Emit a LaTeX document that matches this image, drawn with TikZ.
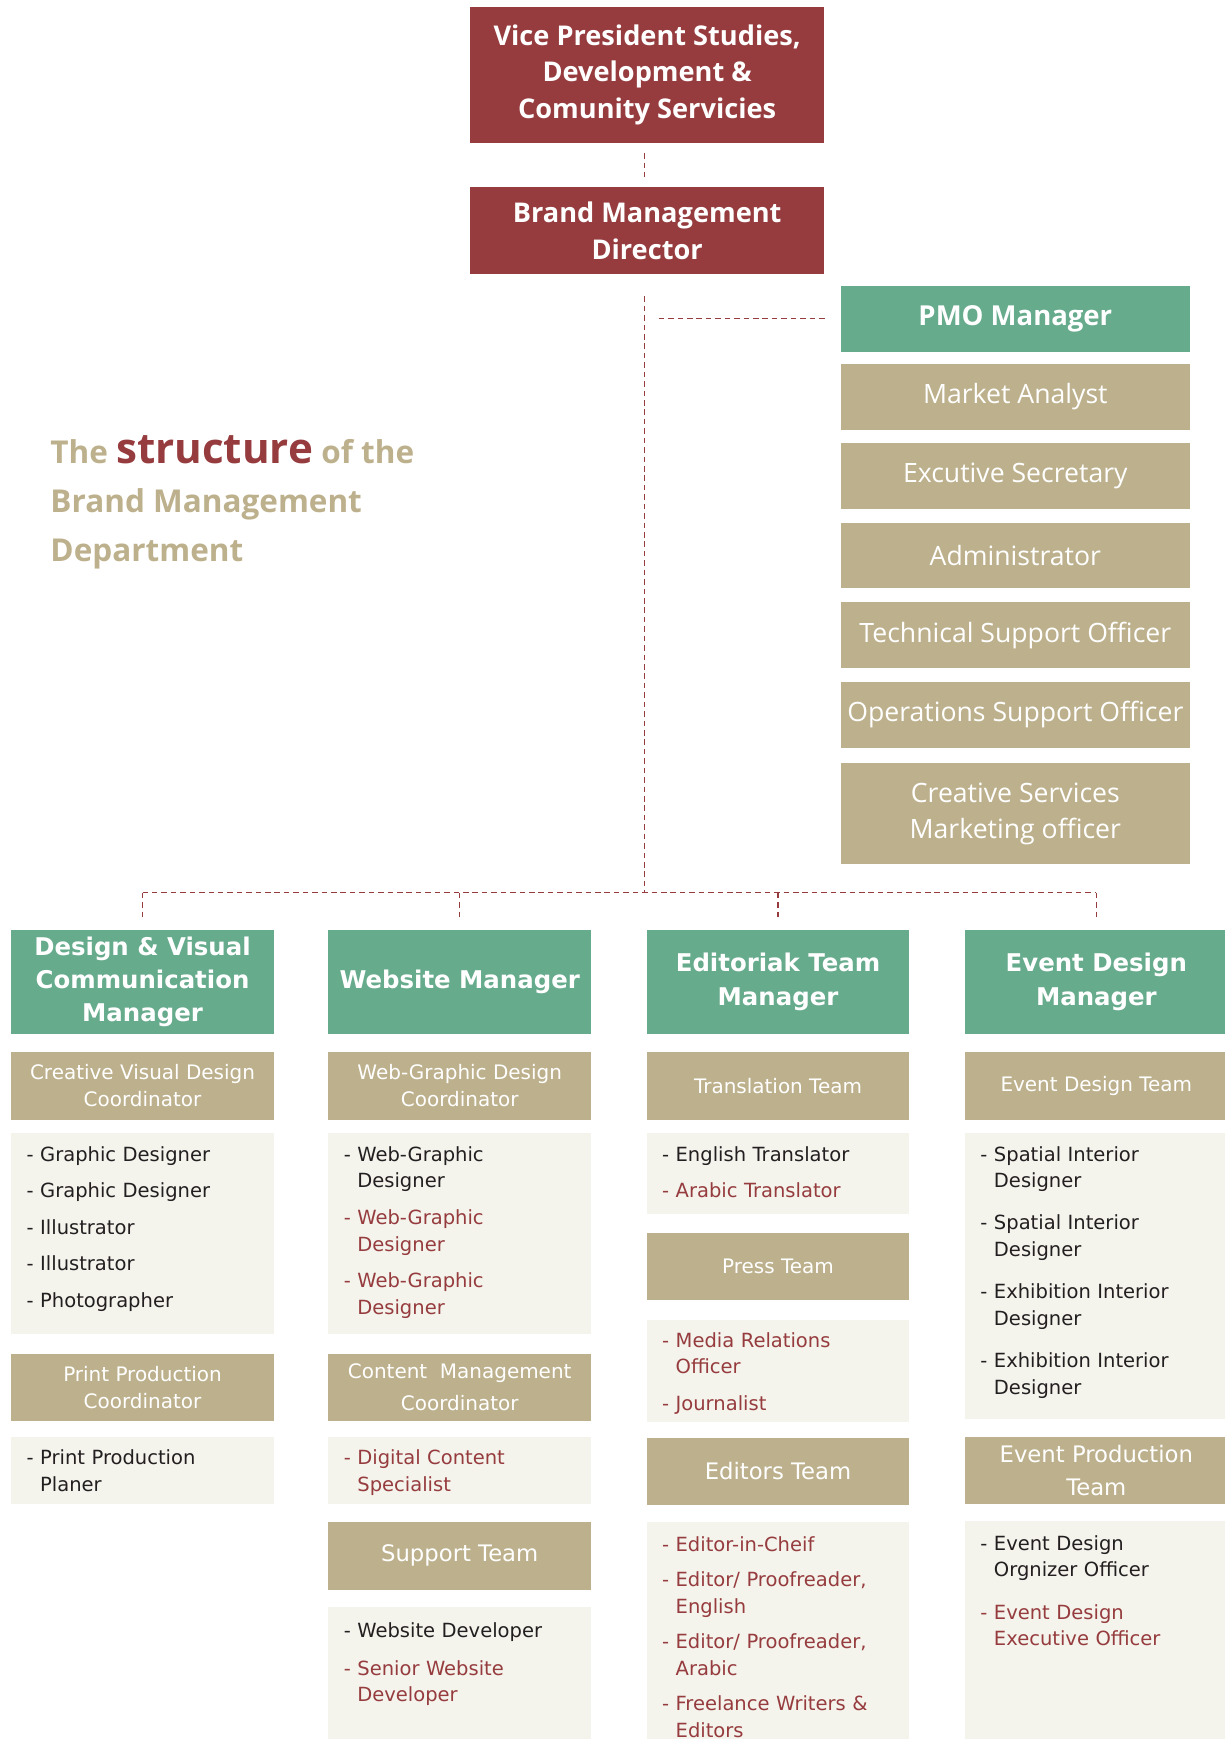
\documentclass[tikz,border=0pt]{standalone}
\usepackage{fontspec}
\setmainfont{DejaVu Sans}
\newfontfamily\headfont{Open Sans}
\usepackage{tikz}
\usetikzlibrary{positioning}

\definecolor{brandred}{HTML}{963C3E}
\definecolor{pmogreen}{HTML}{67AB8D}
\definecolor{sand}{HTML}{BDB08C}
\definecolor{listbg}{HTML}{F4F3EC}
\definecolor{ink}{HTML}{231F20}

\newcommand\ind{\phantom{-~}}
\newcommand\rd[1]{\textcolor{brandred}{#1}}

\begin{document}
\begin{tikzpicture}[x=1pt, y=-1pt,
  redbox/.style={fill=brandred, text=white, align=center, minimum width=319pt, inner sep=0pt, font=\headfont\bfseries\fontsize{24.5}{33}\selectfont},
  pmobox/.style={fill=pmogreen, text=white, minimum width=315pt, minimum height=59pt, inner sep=0pt, font=\headfont\bfseries\fontsize{24.8}{30}\selectfont},
  staffbox/.style={fill=sand, text=white, align=center, minimum width=315pt, minimum height=59pt, inner sep=0pt, font=\headfont\fontsize{24}{33}\selectfont},
  mgrbox/.style={fill=pmogreen, text=white, align=center, minimum width=237pt, minimum height=94pt, inner sep=0pt, font=\bfseries\fontsize{22}{30}\selectfont},
  teambox/.style={fill=sand, text=white, align=center, minimum width=237pt, minimum height=61pt, inner sep=0pt, font=\fontsize{18}{24.5}\selectfont},
  teamlg/.style={teambox, font=\fontsize{20.5}{29}\selectfont},
  listbox/.style={fill=listbg, text=ink, align=left, text width=209pt, inner xsep=14pt, inner ysep=0pt, text height=25pt, font=\fontsize{17.6}{24}\selectfont},
  link/.style={draw=brandred, line width=1pt, dash pattern=on 5pt off 3.5pt}]

  \useasboundingbox (0,0) rectangle (1104,1568);

  \node[redbox, minimum height=123pt] (vp) at (583.5,67.5) {Vice President Studies,\\Development \&\\Comunity Servicies};
  \node[redbox, minimum height=78pt] (bmd) at (583.5,208) {Brand Management\\Director};

  \node[pmobox] (pmo) at (915.5,287.5) {PMO Manager};
  \node[staffbox, below=11pt of pmo] (s1) {Market Analyst};
  \node[staffbox, below=12pt of s1] (s2) {Excutive Secretary};
  \node[staffbox, below=12pt of s2] (s3) {Administrator};
  \node[staffbox, below=12.5pt of s3] (s4) {Technical Support Officer};
  \node[staffbox, below=12.5pt of s4] (s5) {Operations Support Officer};
  \node[staffbox, below=14pt of s5, minimum height=91pt] (s6) {Creative Services\\Marketing officer};

  \node[anchor=base west, align=left, text=sand, font=\headfont\bfseries\fontsize{28.4}{44}\selectfont] (title) at (42,506)
    {The {\color{brandred}\fontsize{38}{44}\selectfont structure} of the\\Brand Management\\Department};

  \node[mgrbox, anchor=north] (m1) at (128.5,838) {Design \& Visual\\Communication\\Manager};
  \node[teambox, below=16pt of m1] (c1a) {Creative Visual Design\\Coordinator};
  \node[listbox, below=12pt of c1a, text depth=156pt] (l1a) {- Graphic Designer\\[9pt]- Graphic Designer\\[9pt]- Illustrator\\[9pt]- Illustrator\\[9pt]- Photographer};
  \node[teambox, below=17pt of l1a] (c1b) {Print Production\\Coordinator};
  \node[listbox, below=14pt of c1b, text depth=35pt] (l1b) {- Print Production\\\ind Planer};

  \node[mgrbox, anchor=north] (m2) at (414.5,838) {Website Manager};
  \node[teambox, below=16pt of m2] (c2a) {Web-Graphic Design\\Coordinator};
  \node[listbox, below=12pt of c2a, text depth=156pt] (l2a) {- Web-Graphic\\\ind Designer\\[9pt]\rd{- Web-Graphic}\\\rd{\ind Designer}\\[9pt]\rd{- Web-Graphic}\\\rd{\ind Designer}};
  \node[teambox, below=17pt of l2a, font=\fontsize{18}{29}\selectfont] (c2b) {Content~~Management\\Coordinator};
  \node[listbox, below=14pt of c2b, text depth=35pt] (l2b) {\rd{- Digital Content}\\\rd{\ind Specialist}};
  \node[teamlg, below=16pt of l2b] (c2c) {Support Team};
  \node[listbox, below=15pt of c2c, text height=28pt, text depth=110pt] (l2c) {- Website Developer\\[10pt]\rd{- Senior Website}\\\rd{\ind Developer}};

  \node[mgrbox, anchor=north] (m3) at (701.5,838) {Editoriak Team\\Manager};
  \node[teambox, below=16pt of m3] (c3a) {Translation Team};
  \node[listbox, below=12pt of c3a, text depth=48pt] (l3a) {- English Translator\\[9pt]\rd{- Arabic Translator}};
  \node[teambox, below=16pt of l3a] (c3b) {Press Team};
  \node[listbox, below=17pt of c3b, text depth=67pt] (l3b) {\rd{- Media Relations}\\\rd{\ind Officer}\\[9pt]\rd{- Journalist}};
  \node[teamlg, below=14pt of l3b] (c3c) {Editors Team};
  \node[listbox, below=15pt of c3c, text height=26pt, text depth=200pt] (l3c) {\rd{- Editor-in-Cheif}\\[8pt]\rd{- Editor/ Proofreader,}\\\rd{\ind English}\\[8pt]\rd{- Editor/ Proofreader,}\\\rd{\ind Arabic}\\[8pt]\rd{- Freelance Writers \&}\\\rd{\ind Editors}};

  \node[mgrbox, anchor=north] (m4) at (988.5,838) {Event Design\\Manager};
  \node[teambox, below=16pt of m4] (c4a) {Event Design Team};
  \node[listbox, below=12pt of c4a, text depth=232pt] (l4a) {- Spatial Interior\\\ind Designer\\[14pt]- Spatial Interior\\\ind Designer\\[14pt]- Exhibition Interior\\\ind Designer\\[14pt]- Exhibition Interior\\\ind Designer};
  \node[teamlg, below=16pt of l4a] (c4b) {Event Production\\Team};
  \node[listbox, below=15pt of c4b, text height=26pt, text depth=200pt] (l4b) {- Event Design\\\ind Orgnizer Officer\\[14pt]\rd{- Event Design}\\\rd{\ind Executive Officer}};

  \coordinate (hub) at (581,805);
  \draw[link, shorten <=9pt, shorten >=9pt] (vp.south -| hub) -- (bmd.north -| hub);
  \draw[link, shorten <=20pt] (bmd.south -| hub) -- (hub);
  \draw[link, shorten <=13pt, shorten >=11pt] (pmo.west -| hub) -- (pmo.west);
  \draw[link] (m1.north |- hub) -- (m4.north |- hub);
  \foreach \m in {m1,m2,m3,m4}
    \draw[link, shorten >=8pt] (\m.north |- hub) -- (\m.north);
\end{tikzpicture}
\end{document}
